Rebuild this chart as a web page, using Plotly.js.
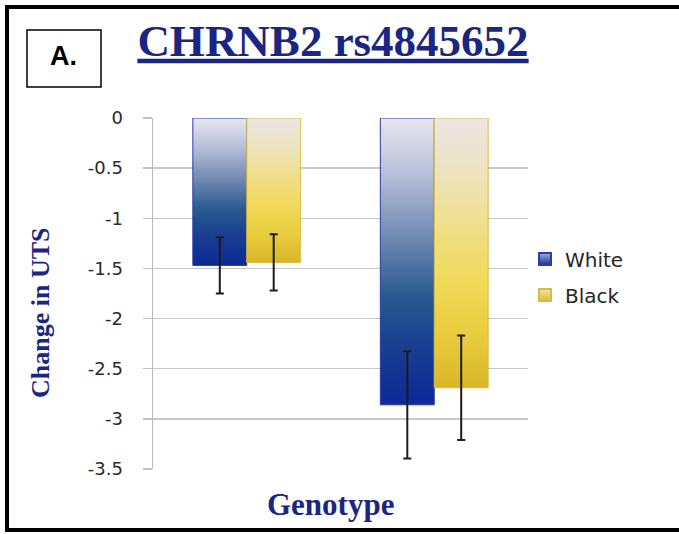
<!DOCTYPE html>
<html>
<head>
<meta charset="utf-8">
<script src="https://cdn.plot.ly/plotly-3.0.1.min.js"></script>
<style>
  html, body { margin: 0; padding: 0; background: #ffffff; }
  #chart { width: 679px; height: 534px; }
</style>
</head>
<body>
<div id="chart"></div>
<script>
// ---- data ----
const genotypes = ['Genotype 1', 'Genotype 2'];
const whiteMeans = [-1.47, -2.86];
const whiteErrors = [0.28, 0.535];
const blackMeans = [-1.44, -2.69];
const blackErrors = [0.28, 0.52];
const yTickVals = [0, -0.5, -1, -1.5, -2, -2.5, -3, -3.5];
const yTickText = ['0', '-0.5', '-1', '-1.5', '-2', '-2.5', '-3', '-3.5'];

// ---- geometry helpers (pixel -> paper) ----
const W = 679, H = 534;
const M = { l: 153, r: 151, t: 118, b: 65 };
const px = x => (x - M.l) / (W - M.l - M.r);
const py = y => 1 - (y - M.t) / (H - M.t - M.b);

const BAR_W = 0.2875;   // width of one bar, in category units
const NAVY = '#1b2683';
const SERIF = 'Liberation Serif, Times New Roman, serif';

const series = [
  {
    name: 'White', means: whiteMeans, errs: whiteErrors, side: -1,
    edge: '#2b3ca6', swatchTop: '#a3b0d6', swatchBottom: '#10309a',
    scale: [[0, '#0d2996'], [0.18, '#173b91'], [0.38, '#285a8e'],
            [0.58, '#6f88b0'], [0.8, '#b6bed8'], [1, '#e8e6f0']]
  },
  {
    name: 'Black', means: blackMeans, errs: blackErrors, side: 1,
    edge: '#d6bd4a', swatchTop: '#f3e6a0', swatchBottom: '#dcbb30',
    scale: [[0, '#d9b628'], [0.2, '#e9cd3e'], [0.4, '#f1da5a'],
            [0.62, '#efe08f'], [0.82, '#ede3c3'], [1, '#ece6e6']]
  }
];

const traces = [];

// gradient-filled bars, one closed shape per bar so each has its own gradient
series.forEach(s => {
  genotypes.forEach((g, i) => {
    const x0 = i + (s.side < 0 ? -BAR_W : 0);
    const x1 = x0 + BAR_W;
    const v = s.means[i];
    traces.push({
      type: 'scatter', mode: 'lines',
      x: [x0, x0, x1, x1, x0],
      y: [0, v, v, 0, 0],
      fill: 'toself',
      fillgradient: { type: 'vertical', colorscale: s.scale },
      line: { color: s.edge, width: 1 },
      hoverinfo: 'skip',
      showlegend: false,
      legendgroup: s.name
    });
  });
});

// error bars at each bar centre (these also carry the legend entries)
series.forEach(s => {
  traces.push({
    type: 'scatter', mode: 'markers',
    name: s.name,
    legendgroup: s.name,
    x: genotypes.map((g, i) => i + s.side * BAR_W / 2),
    y: s.means,
    error_y: {
      type: 'data', array: s.errs, symmetric: true,
      color: '#1c1c1c', thickness: 2, width: 4
    },
    marker: {
      symbol: 'square', size: 0.01,
      color: s.swatchTop,
      gradient: { type: 'vertical', color: s.swatchBottom },
      line: { color: s.edge, width: 1 }
    },
    hoverinfo: 'skip'
  });
});

const layout = {
  width: W, height: H,
  margin: M,
  paper_bgcolor: '#ffffff',
  plot_bgcolor: '#ffffff',
  showlegend: true,
  title: {
    text: '<u>CHRNB2 rs4845652</u>',
    font: { family: SERIF, size: 45, weight: 'bold', color: NAVY },
    xref: 'container', x: 333 / W, xanchor: 'center',
    yref: 'container', y: 1 - 40 / H, yanchor: 'middle'
  },
  xaxis: {
    range: [-0.5, 1.5],
    showticklabels: false, ticks: '',
    showgrid: false, zeroline: false, showline: false
  },
  yaxis: {
    range: [-3.5, 0],
    tickvals: yTickVals, ticktext: yTickText,
    ticks: 'outside', ticklen: 9, tickwidth: 1.5, tickcolor: '#c2c2c2',
    ticklabelstandoff: 16,
    tickfont: { family: 'DejaVu Sans, Verdana, sans-serif', size: 18, color: '#2a2a2a' },
    showgrid: true, gridcolor: '#c8c8c8', gridwidth: 1.5,
    showline: true, linecolor: '#b9b9b9', linewidth: 1.5,
    zeroline: false
  },
  legend: {
    x: px(525), xanchor: 'left',
    y: py(277), yanchor: 'middle',
    font: { family: 'DejaVu Sans, Verdana, sans-serif', size: 20, color: '#262626' },
    itemsizing: 'constant',
    tracegroupgap: 7,
    bgcolor: 'rgba(0,0,0,0)'
  },
  shapes: [
    // outer frame (left, top, bottom edges)
    { type: 'line', xref: 'paper', yref: 'paper', x0: px(7), x1: px(7), y0: py(5), y1: py(532),
      line: { color: '#000000', width: 4 } },
    { type: 'line', xref: 'paper', yref: 'paper', x0: px(5), x1: px(700), y0: py(7), y1: py(7),
      line: { color: '#000000', width: 4 } },
    { type: 'line', xref: 'paper', yref: 'paper', x0: px(5), x1: px(700), y0: py(530), y1: py(530),
      line: { color: '#000000', width: 4 } },
    // panel-letter box
    { type: 'rect', xref: 'paper', yref: 'paper', x0: px(27), x1: px(101), y0: py(87), y1: py(30),
      line: { color: '#000000', width: 1.5 }, fillcolor: 'rgba(0,0,0,0)' }
  ],
  annotations: [
    { xref: 'paper', yref: 'paper', x: px(63), y: py(56), xanchor: 'center', yanchor: 'middle',
      text: '<b>A.</b>', showarrow: false,
      font: { family: 'Liberation Sans, Arial, sans-serif', size: 27, color: '#000000' } },
    // axis titles
    { xref: 'paper', yref: 'paper', x: px(40), y: py(313), xanchor: 'center', yanchor: 'middle',
      text: '<b>Change in UTS</b>', textangle: -90, showarrow: false,
      font: { family: SERIF, size: 26, color: NAVY } },
    { xref: 'paper', yref: 'paper', x: px(330), y: py(504), xanchor: 'center', yanchor: 'middle',
      text: '<b>Genotype</b>', showarrow: false,
      font: { family: SERIF, size: 31, color: NAVY } }
  ]
};

Plotly.newPlot('chart', traces, layout, { displayModeBar: false, staticPlot: true });
</script>
</body>
</html>
